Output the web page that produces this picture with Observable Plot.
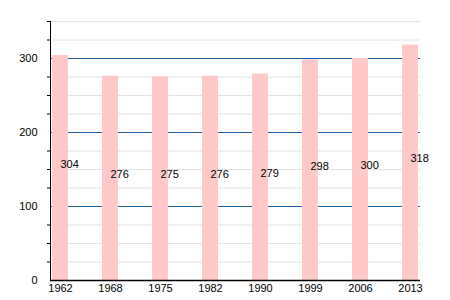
<!DOCTYPE html>
<html><head><meta charset="utf-8">
<script src="https://cdn.jsdelivr.net/npm/d3@7"></script>
<script src="https://cdn.jsdelivr.net/npm/@observablehq/plot@0.6"></script>
<style>body{margin:0;background:#fff}</style>
</head><body><div id="chart"></div>
<script>
const years = ["1962","1968","1975","1982","1990","1999","2006","2013"];
const values = [304,276,275,276,279,298,300,318];
const majorTicks = [0,100,200,300];
const minorTicks = [25,50,75,125,150,175,225,250,275,325,350];
const data = years.map((y,i)=>({year:y, value:values[i]}));
const chart = Plot.plot({
  width:450, height:300,
  marginLeft:50, marginRight:30, marginTop:21, marginBottom:20,
  style:{fontFamily:"Liberation Sans, Arial, sans-serif", fontSize:"11px", color:"#000", background:"#fff"},
  x:{domain:years, paddingInner:0.69, paddingOuter:0, label:null},
  y:{domain:[0,350], label:null},
  marks:[
    Plot.ruleY(minorTicks, {stroke:"#e2e2e2", strokeWidth:1}),
    Plot.ruleY([100,200,300], {stroke:"#1f5fa4", strokeWidth:1.2}),
    Plot.barY(data, {x:"year", y:"value", fill:"#ffc9c9"}),
    Plot.text(data, {x:"year", y:d=>d.value/2, text:d=>String(d.value), textAnchor:"start", dy:-4, fill:"#000", fontSize:11}),
    Plot.axisY(majorTicks, {tickSize:0, tickPadding:13, fontSize:11}),
    Plot.axisY(minorTicks, {tickSize:3, text:null}),
    Plot.axisX({tickSize:0, tickPadding:4, fontSize:11}),
    Plot.ruleY([0], {stroke:"#000", strokeWidth:1.5}),
    Plot.frame({anchor:"left", stroke:"#000"}),
  ]
});
document.getElementById("chart").appendChild(chart);
</script></body></html>
